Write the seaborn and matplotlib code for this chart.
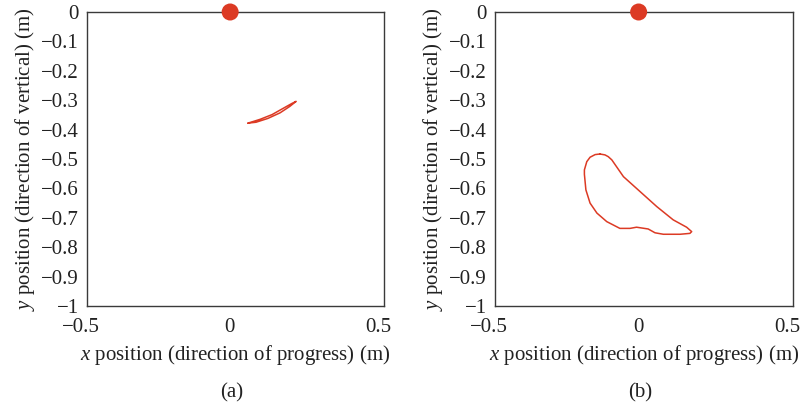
import matplotlib
matplotlib.use("Agg")
import matplotlib.pyplot as plt
import matplotlib.transforms as mtransforms
import seaborn as sns
import pandas as pd
import numpy as np

sns.set_theme(style="white")
plt.rcParams['font.family'] = ['Liberation Serif', 'DejaVu Serif']
plt.rcParams['mathtext.fontset'] = 'custom'
plt.rcParams['mathtext.it'] = 'Liberation Serif:italic'
plt.rcParams['mathtext.rm'] = 'Liberation Serif'

# Trajectory (a)
xa = [0.042, 0.083, 0.123, 0.160, 0.190, 0.204, 0.183, 0.150, 0.109, 0.069, 0.042]
ya = [-0.378, -0.365, -0.349, -0.328, -0.311, -0.304, -0.321, -0.343, -0.362, -0.375, -0.378]

# Trajectory (b)
xb = [-0.148, -0.164, -0.181, -0.192, -0.200, -0.200, -0.195, -0.181, -0.158, -0.125,
      -0.081, -0.047, -0.025, 0.014, 0.037, 0.065, 0.121, 0.154, 0.160, 0.143,
      0.098, 0.043, -0.013, -0.069, -0.108, -0.120, -0.131, -0.148]
yb = [-0.483, -0.485, -0.494, -0.509, -0.537, -0.552, -0.605, -0.650, -0.684, -0.713,
      -0.736, -0.736, -0.732, -0.738, -0.751, -0.756, -0.756, -0.753, -0.747, -0.732,
      -0.707, -0.662, -0.611, -0.560, -0.503, -0.492, -0.486, -0.483]

# Pivot point
pivot_x = [-0.018]
pivot_y = [0.0]

xticks = [-0.5, 0, 0.5]
xticklabels = ["\u22120.5", "0", "0.5"]
yticks = [0, -0.1, -0.2, -0.3, -0.4, -0.5, -0.6, -0.7, -0.8, -0.9, -1]
yticklabels = ["0"] + ["\u22120.%d" % i for i in range(1, 10)] + ["\u22121"]

panel_labels = ["(a)", "(b)"]
red = "#dc3a24"
dark = "#3a3a3a"
txt = "#222222"
fs = 15

fig = plt.figure(figsize=(8, 4.11), dpi=100)
W, H = 800, 411
axes_px = [(87, 12, 297, 294), (495, 12, 298, 294)]
for i, ((l, t, w, h), (xs, ys)) in enumerate(zip(axes_px, [(xa, ya), (xb, yb)])):
    ax = fig.add_axes([l / W, 1 - (t + h) / H, w / W, h / H])
    df = pd.DataFrame({"x": xs, "y": ys, "o": np.arange(len(xs))})
    sns.lineplot(data=df, x="x", y="y", sort=False, estimator=None, ax=ax,
                 color=red, linewidth=1.1)
    sns.scatterplot(x=pivot_x, y=pivot_y, ax=ax, color=red, s=150,
                    edgecolor="none", zorder=5, clip_on=False)
    ax.set_xlim(-0.5, 0.5)
    ax.set_ylim(-1, 0)
    ax.set_xticks(xticks)
    ax.set_xticklabels(xticklabels)
    ax.set_yticks(yticks)
    ax.set_yticklabels(yticklabels)
    ax.tick_params(axis='x', direction='in', length=3, width=0.8, color=dark,
                   labelsize=fs, labelcolor=txt, pad=9)
    ax.tick_params(axis='y', direction='out', length=3, width=0.8, color=dark,
                   labelsize=fs, labelcolor=txt, pad=3)
    offset = mtransforms.ScaledTranslation(-6 / 100, 0, fig.dpi_scale_trans)
    for lab in ax.get_xticklabels():
        lab.set_transform(lab.get_transform() + offset)
    for sp in ax.spines.values():
        sp.set_color(dark)
        sp.set_linewidth(1.0)
    ax.set_xlabel("$x$ position (direction of progress) (m)", fontsize=fs,
                  color=txt, labelpad=4)
    ax.set_ylabel("$y$ position (direction of vertical) (m)", fontsize=fs,
                  color=txt, labelpad=3)
    fig.text((l + w / 2 - 4) / W, 1 - 393 / H, panel_labels[i], ha="center",
             va="center", fontsize=fs, color=txt)

fig.savefig("out.png", dpi=100, facecolor="white")
